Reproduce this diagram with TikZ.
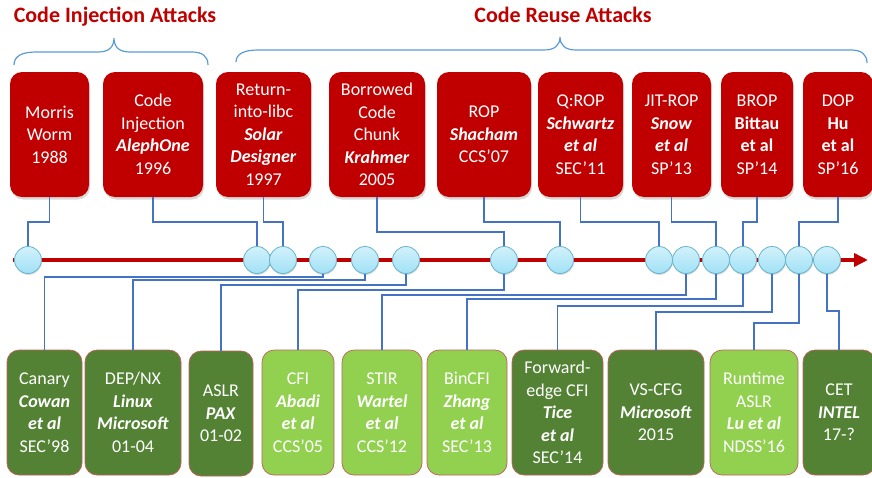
\documentclass[tikz,border=0pt]{standalone}
\usepackage{fontspec}
\setmainfont{Carlito}
\usepackage{xcolor}
\usepackage{tikz}
\usetikzlibrary{arrows.meta,shapes,shadows,calc}
\definecolor{atkred}{HTML}{C00000}
\definecolor{defdark}{HTML}{548235}
\definecolor{deflight}{HTML}{92D050}
\definecolor{defrim}{HTML}{C0605A}
\definecolor{linkblue}{HTML}{4472C4}
\definecolor{bracblue}{HTML}{5B9BD5}
\definecolor{evtop}{HTML}{D2F1FB}
\definecolor{evbot}{HTML}{A0E1F6}
\definecolor{evrim}{HTML}{66B2C9}
\newcommand{\auth}[1]{\textbf{\textit{#1}}}
\tikzstyle{atk}=[rectangle, rounded corners=12pt, fill=atkred, text=white,% attack boxes on top
align=center, inner sep=0pt, minimum height=125pt, font=\fontsize{18}{22.5}\selectfont,
drop shadow={shadow xshift=1pt,shadow yshift=-2.5pt,opacity=0.3}]
\tikzstyle{dfn}=[rectangle, rounded corners=12pt, draw=defrim, line width=0.7pt, text=white,% defense boxes below
align=center, inner sep=0pt, minimum height=125pt, font=\fontsize{18}{22.5}\selectfont]
\tikzstyle{evt}=[circle, draw=evrim, top color=evtop, bottom color=evbot,
minimum size=27pt, inner sep=0pt, line width=0.8pt,
drop shadow={shadow xshift=0.5pt,shadow yshift=-1.5pt,opacity=0.25}]
\tikzstyle{link}=[draw=linkblue, line width=1.1pt]
\tikzstyle{brc}=[draw=bracblue, line width=1.2pt]
\tikzstyle{ttl}=[text=atkred, font=\fontsize{22}{26}\selectfont\bfseries]

\begin{document}
\begin{tikzpicture}[x=1pt,y=-1pt]
\useasboundingbox (0,0) rectangle (872,477);
% titles and braces
\node[ttl] (inj) at (115,17) {Code Injection Attacks};
\node[ttl] (reuse) at (563,15) {Code Reuse Attacks};
\draw[brc] (14,65) .. controls (14,56) and (22,52) .. (36,52) -- (98,52)
  .. controls (109,52) and (114,47) .. (114,38) .. controls (114,47) and (119,52) .. (130,52)
  -- (192,52) .. controls (202,52) and (208,56) .. (208,65);
\draw[brc] (236,62) .. controls (236,54) and (244,50) .. (258,50) -- (544,50)
  .. controls (555,50) and (560,45) .. (560,37) .. controls (560,45) and (565,50) .. (576,50)
  -- (851,50) .. controls (861,50) and (867,54) .. (867,63);
% timeline
\coordinate (start) at (13,260);
\coordinate (stop) at (868,260);
\draw[atkred, line width=4pt, -{Triangle[length=14pt,width=13pt]}] (start) -- (stop);
\node[evt] (t1) at (28,260) {};
\node[evt] (t2) at (257,260) {};
\node[evt] (t3) at (283,260) {};
\node[evt] (t4) at (323,260) {};
\node[evt] (t5) at (365,260) {};
\node[evt] (t6) at (406,260) {};
\node[evt] (t7) at (504,260) {};
\node[evt] (t8) at (560,260) {};
\node[evt] (t9) at (659,260) {};
\node[evt] (t10) at (686,260) {};
\node[evt] (t11) at (716,260) {};
\node[evt] (t12) at (743,260) {};
\node[evt] (t13) at (772,260) {};
\node[evt] (t14) at (799,260) {};
\node[evt] (t15) at (827,260) {};
% attacks
\node[atk, minimum width=79pt] (a1) at (49.5,134.5) {Morris\\Worm\\1988};
\node[atk, minimum width=100pt] (a2) at (153,134.5) {Code\\Injection\\\auth{AlephOne}\\1996};
\node[atk, minimum width=95pt] (a3) at (263.5,134.5) {Return-\\into-libc\\\auth{Solar}\\\auth{Designer}\\1997};
\node[atk, minimum width=96pt] (a4) at (377,134.5) {Borrowed\\Code\\Chunk\\\auth{Krahmer}\\2005};
\node[atk, minimum width=94pt] (a5) at (484,134.5) {ROP\\\auth{Shacham}\\CCS’07};
\node[atk, minimum width=85pt] (a6) at (580.5,134.5) {Q:ROP\\\auth{Schwartz}\\\auth{et al}\\SEC’11};
\node[atk, minimum width=79pt] (a7) at (671.5,134.5) {JIT-ROP\\\auth{Snow}\\\auth{et al}\\SP’13};
\node[atk, minimum width=72pt] (a8) at (757,134.5) {BROP\\\textbf{Bittau}\\\textbf{et al}\\SP’14};
\node[atk, minimum width=70pt] (a9) at (838,134.5) {DOP\\\textbf{Hu}\\\textbf{et al}\\SP’16};
% defenses
\node[dfn, fill=defdark, minimum width=75pt] (d1) at (44.5,412.5) {Canary\\\auth{Cowan}\\\auth{et al}\\SEC’98};
\node[dfn, fill=defdark, minimum width=96pt] (d2) at (133,412.5) {DEP/NX\\\auth{Linux}\\\auth{Microsoft}\\01-04};
\node[dfn, fill=defdark, minimum width=64pt] (d3) at (221,413.5) {ASLR\\\auth{PAX}\\01-02};
\node[dfn, fill=deflight, minimum width=72pt] (d4) at (298,412.5) {CFI\\\auth{Abadi}\\\auth{et al}\\CCS’05};
\node[dfn, fill=deflight, minimum width=80pt] (d5) at (382,412.5) {STIR\\\auth{Wartel}\\\auth{et al}\\CCS’12};
\node[dfn, fill=deflight, minimum width=80pt] (d6) at (467,412.5) {BinCFI\\\auth{Zhang}\\\auth{et al}\\SEC’13};
\node[dfn, fill=defdark, minimum width=91pt] (d7) at (557.5,412.5) {Forward-\\edge CFI\\\auth{Tice}\\\auth{et al}\\SEC’14};
\node[dfn, fill=defdark, minimum width=96pt] (d8) at (656,412.5) {VS-CFG\\\auth{Microsoft}\\2015};
\node[dfn, fill=deflight, minimum width=88pt] (d9) at (754,412.5) {Runtime\\ASLR\\\auth{Lu et al}\\NDSS’16};
\node[dfn, fill=defdark, minimum width=72pt] (d10) at (839,412.5) {CET\\\auth{INTEL}\\17-?};
% attacks to timeline
\draw[link] (a1.south) -- (a1 |- 0,222) -| (t1.north);
\draw[link] (a2.south) -- (a2 |- 0,222) -| (t2.north);
\draw[link] (a3.south) -- (a3 |- 0,222) -| (t3.north);
\draw[link] (a4.south) -- (a4 |- 0,232) -| (t7.north);
\draw[link] (a5.south) -- (a5 |- 0,222) -| (t8.north);
\draw[link] (a6.south) -- (a6 |- 0,222) -| (t9.north);
\draw[link] (a7.south) -- (a7 |- 0,222) -| (t11.north);
\draw[link] (a8.south) -- (a8 |- 0,222) -| (t12.north);
\draw[link] (a9.south) -- (a9 |- 0,222) -| (t14.north);
% timeline to defenses
\draw[link] (t4.south) -- (t4 |- 0,277) -| (d1.north);
\draw[link] (t5.south) -- (t5 |- 0,280) -| (d2.north);
\draw[link] (t6.south) -- (t6 |- 0,285) -| (d3.north);
\draw[link] (t7.south) -- (t7 |- 0,290) -| (d4.north);
\draw[link] (t10.south) -- (t10 |- 0,295) -| (d5.north);
\draw[link] (t11.south) -- (t11 |- 0,299) -| (d6.north);
\draw[link] (t12.south) -- (t12 |- 0,306) -| (d7.north);
\draw[link] (t13.south) -- (t13 |- 0,312) -| (d8.north);
\draw[link] (t14.south) -- (t14 |- 0,323) -| (d9.north);
\draw[link] (t15.south) -- (t15 |- 0,311) -| (d10.north);
\end{tikzpicture}
\end{document}
